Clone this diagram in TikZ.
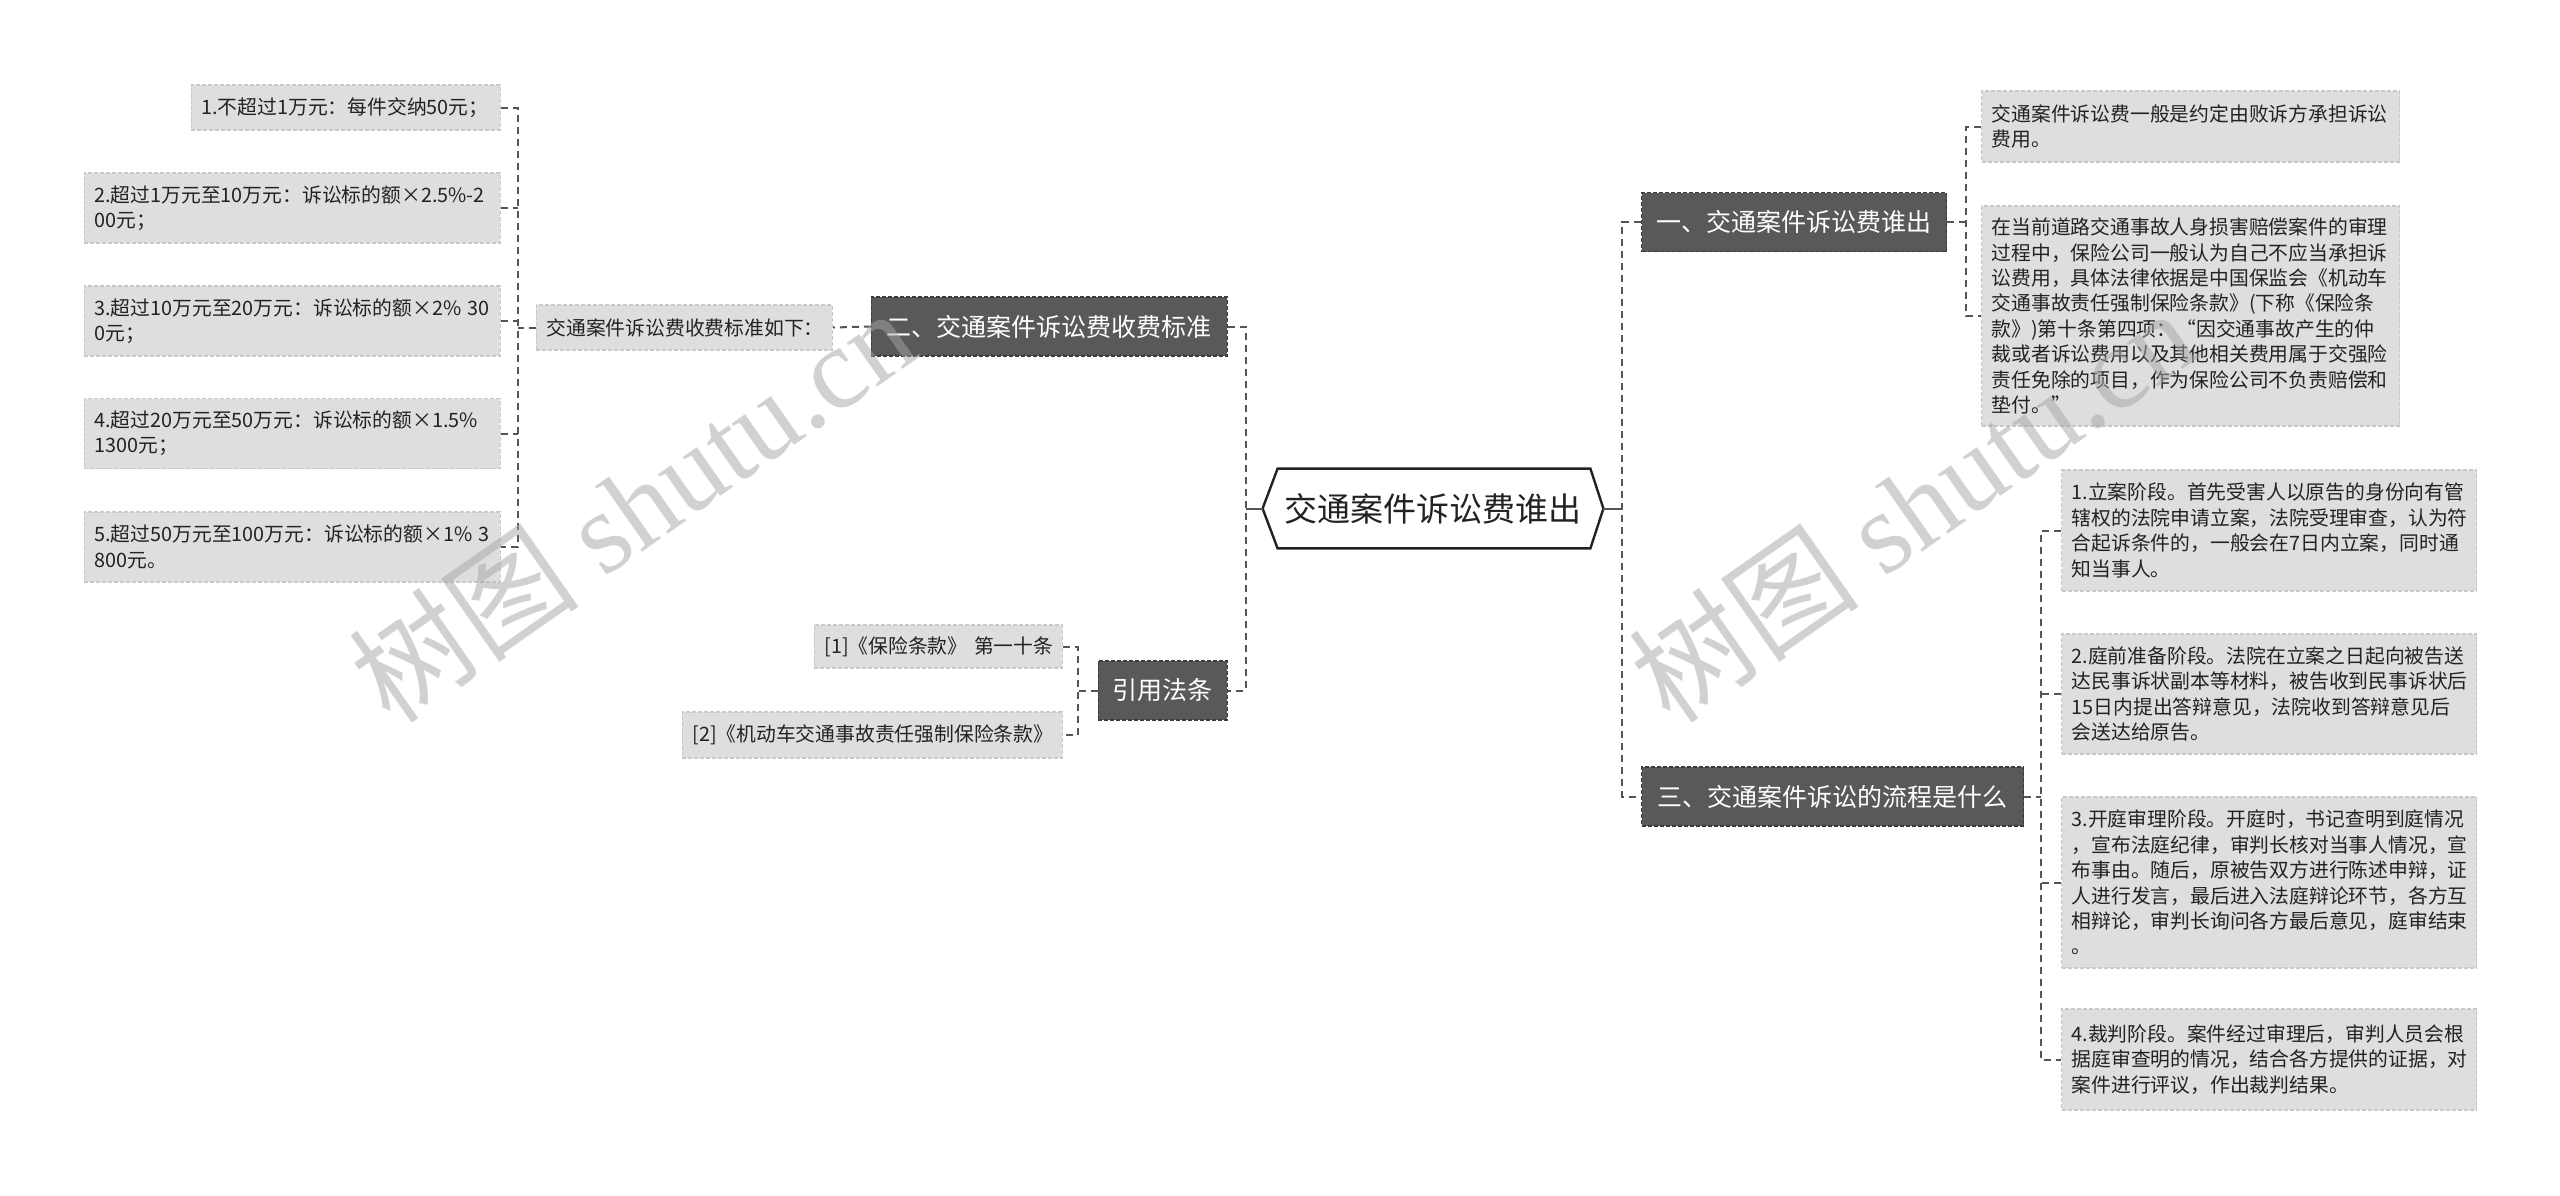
\documentclass[tikz,border=0pt]{standalone}
\usepackage{fontspec}
\setmainfont{Noto Sans CJK SC}
\newfontfamily\latinserif{Liberation Serif}
\usepackage{tikz}
\usetikzlibrary{positioning, calc}
\definecolor{mytext}{RGB}{34,34,34}
\definecolor{topicfill}{RGB}{89,89,89}
\definecolor{topicedge}{RGB}{60,60,60}
\definecolor{leaffill}{RGB}{222,222,222}
\definecolor{leafedge}{RGB}{200,200,200}
\definecolor{linkgray}{RGB}{85,85,85}
\definecolor{wmgray}{RGB}{165,165,165}
\tikzset{
  rootnode/.style={rectangle, minimum width=170pt, minimum height=39.5pt,
    font=\fontsize{16.5}{20}\selectfont, text=mytext},
  hexline/.style={draw=mytext, fill=white, line width=1.2pt, line join=miter},
  topic/.style={rectangle, draw=topicedge, fill=topicfill, dashed,
    dash pattern=on 2pt off 1pt, line width=0.6pt, text=white,
    minimum height=29.5pt, font=\fontsize{12.5}{15}\selectfont},
  leaf/.style={rectangle, draw=leafedge, fill=leaffill, dashed,
    dash pattern=on 2pt off 1pt, line width=0.6pt, text=mytext,
    align=left, inner xsep=5pt, text width=199pt,
    font=\fontsize{9.9}{12.7}\selectfont},
  link/.style={draw=linkgray, line width=1pt, dash pattern=on 3.5pt off 2.5pt},
  stub/.style={draw=linkgray, line width=1pt},
  wmark/.style={text=wmgray, opacity=0.5, rotate=35,
    font=\fontsize{58}{58}\selectfont}
}

\begin{document}
\begin{tikzpicture}[x=0.5pt, y=-0.5pt]
  \fill[white] (0,0) rectangle (2560,1195);
  \useasboundingbox (0,0) rectangle (2560,1195);

  \node[rootnode] (root) at (1433,508.5) {};
  \draw[hexline] (root.west) -- ($(root.north west)+(15,0)$) -- ($(root.north east)+(-13,0)$)
    -- (root.east) -- ($(root.south east)+(-13,0)$) -- ($(root.south west)+(15,0)$) -- cycle;
  \node[rootnode] at (root.center) {交通案件诉讼费谁出};

  % right side
  \node[topic, anchor=west, minimum width=152.5pt] (who) at (1641,222) {一、交通案件诉讼费谁出};
  \node[topic, anchor=west, minimum width=191pt] (flow) at (1641,796.5) {三、交通案件诉讼的流程是什么};

  \node[leaf, anchor=west, minimum height=35.5pt] (whoA) at (1981,126.5)
    {交通案件诉讼费一般是约定由败诉方承担诉讼\\费用。};
  \node[leaf, anchor=west, minimum height=110pt] (whoB) at (1981,316)
    {在当前道路交通事故人身损害赔偿案件的审理\\
     过程中，保险公司一般认为自己不应当承担诉\\
     讼费用，具体法律依据是中国保监会《机动车\\
     交通事故责任强制保险条款》(下称《保险条\\
     款》)第十条第四项：“因交通事故产生的仲\\
     裁或者诉讼费用以及其他相关费用属于交强险\\
     责任免除的项目，作为保险公司不负责赔偿和\\
     垫付。”};

  \node[leaf, anchor=west, text width=197.5pt, minimum height=60.5pt] (stage1) at (2061,530.5)
    {1.立案阶段。首先受害人以原告的身份向有管\\
     辖权的法院申请立案，法院受理审查，认为符\\
     合起诉条件的，一般会在7日内立案，同时通\\
     知当事人。};
  \node[leaf, anchor=west, text width=197.5pt, minimum height=60pt] (stage2) at (2061,694)
    {2.庭前准备阶段。法院在立案之日起向被告送\\
     达民事诉状副本等材料，被告收到民事诉状后\\
     15日内提出答辩意见，法院收到答辩意见后\\
     会送达给原告。};
  \node[leaf, anchor=west, text width=197.5pt, minimum height=85.5pt] (stage3) at (2061,882.5)
    {3.开庭审理阶段。开庭时，书记查明到庭情况\\
     ，宣布法庭纪律，审判长核对当事人情况，宣\\
     布事由。随后，原被告双方进行陈述申辩，证\\
     人进行发言，最后进入法庭辩论环节，各方互\\
     相辩论，审判长询问各方最后意见，庭审结束\\
     。};
  \node[leaf, anchor=west, text width=197.5pt, minimum height=50.5pt] (stage4) at (2061,1059.5)
    {4.裁判阶段。案件经过审理后，审判人员会根\\
     据庭审查明的情况，结合各方提供的证据，对\\
     案件进行评议，作出裁判结果。};

  % left side
  \node[topic, anchor=east, minimum width=178pt] (std) at (1228,326.5) {二、交通案件诉讼费收费标准};
  \node[topic, anchor=east, minimum width=64.5pt] (law) at (1228,690.5) {引用法条};

  \node[leaf, anchor=east, text width=138pt, minimum height=22.5pt] (stdHead) at (833,327.5)
    {交通案件诉讼费收费标准如下：};
  \node[leaf, anchor=east, text width=144.5pt, minimum height=22.5pt] (fee1) at (501,107.5)
    {1.不超过1万元：每件交纳50元；};
  \node[leaf, anchor=east, text width=198pt, minimum height=35pt] (fee2) at (501,208)
    {2.超过1万元至10万元：诉讼标的额×2.5\%-2\\00元；};
  \node[leaf, anchor=east, text width=198pt, minimum height=35pt] (fee3) at (501,321)
    {3.超过10万元至20万元：诉讼标的额×2\%~30\\0元；};
  \node[leaf, anchor=east, text width=198pt, minimum height=35pt] (fee4) at (501,433.5)
    {4.超过20万元至50万元：诉讼标的额×1.5\%\\1300元；};
  \node[leaf, anchor=east, text width=198pt, minimum height=35pt] (fee5) at (501,547)
    {5.超过50万元至100万元：诉讼标的额×1\%~3\\800元。};

  \node[leaf, anchor=east, text width=114pt, minimum height=21.5pt] (ref1) at (1063,646.5)
    {[1]《保险条款》~第一十条};
  \node[leaf, anchor=east, text width=180pt, minimum height=23pt] (ref2) at (1063,735)
    {[2]《机动车交通事故责任强制保险条款》};

  % connectors
  \coordinate (rootR) at ($(root.east)+(19,0)$);
  \coordinate (rootL) at ($(root.west)+(-17,0)$);
  \coordinate (whoJ) at ($(who.east)+(19,0)$);
  \coordinate (flowJ) at ($(flow.east)+(17,0)$);
  \coordinate (feeJ) at ($(stdHead.west)+(-18,0)$);
  \coordinate (lawJ) at ($(law.west)+(-20,0)$);

  \draw[stub] (root.east) -- (rootR);
  \draw[stub] (root.west) -- (rootL);
  \draw[link] (who.west) -| (rootR) |- (flow.west);
  \draw[link] (std.east) -| (rootL) |- (law.east);

  \draw[link] (who.east) -- (whoJ);
  \draw[link] (whoA.west) -| (whoJ) |- (whoB.west);

  \draw[link] (flow.east) -- (flowJ);
  \draw[link] (stage1.west) -| (flowJ) |- (stage4.west);
  \draw[link] (stage2.west) -- (stage2.west -| flowJ);
  \draw[link] (stage3.west) -- (stage3.west -| flowJ);

  \draw[link] (std.west) -- (stdHead.east);
  \draw[link] (stdHead.west) -- (feeJ);
  \draw[link] (fee1.east) -| (feeJ) |- (fee5.east);
  \draw[link] (fee2.east) -- (fee2.east -| feeJ);
  \draw[link] (fee3.east) -- (fee3.east -| feeJ);
  \draw[link] (fee4.east) -- (fee4.east -| feeJ);

  \draw[link] (law.west) -- (lawJ);
  \draw[link] (ref1.east) -| (lawJ) |- (ref2.east);

  % watermark
  \node[wmark] (markL) at (632,505) {树图 {\latinserif shutu.cn}};
  \node[wmark] (markR) at (1912,505) {树图 {\latinserif shutu.cn}};
\end{tikzpicture}
\end{document}
